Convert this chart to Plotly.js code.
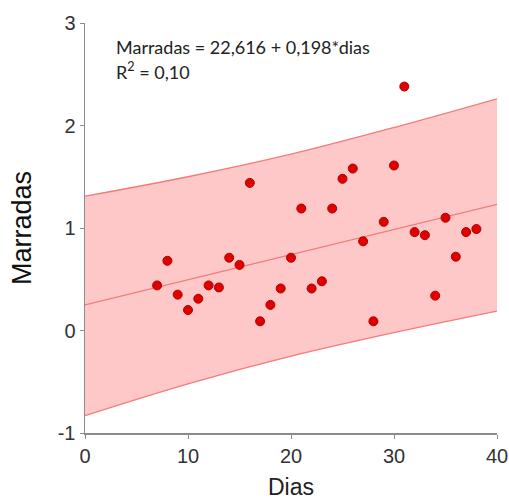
<!DOCTYPE html>
<html>
<head>
<meta charset="utf-8">
<script src="https://cdn.plot.ly/plotly-3.0.1.min.js"></script>
<style>
  html, body { margin: 0; padding: 0; background: #fff; }
  #chart { width: 509px; height: 500px; }
</style>
</head>
<body>
<div id="chart"></div>
<script>
// Observed headbutts per day
const dias = [7, 8, 9, 10, 11, 12, 13, 14, 15, 16, 17, 18, 19, 20, 21, 22,
              23, 24, 25, 26, 27, 28, 29, 30, 31, 32, 33, 34, 35, 36, 37, 38];
const marradas = [0.44, 0.68, 0.35, 0.20, 0.31, 0.44, 0.42, 0.71, 0.64, 1.44, 0.09, 0.25, 0.41, 0.71, 1.19, 0.41,
                  0.48, 1.19, 1.48, 1.58, 0.87, 0.09, 1.06, 1.61, 2.38, 0.96, 0.93, 0.34, 1.10, 0.72, 0.96, 0.99];

// Fitted line
const fitX = [0, 40];
const fitY = [0.25, 1.23];

// Prediction band
const bandX = [0, 10, 20, 30, 40];
const bandUpper = [1.31, 1.50, 1.72, 1.98, 2.26];
const bandLower = [-0.83, -0.52, -0.25, -0.02, 0.19];

// Axis ticks
const xTicks = [0, 10, 20, 30, 40];
const yTicks = [-1, 0, 1, 2, 3];

const sansFamily = '"Liberation Sans", Arial, sans-serif';
const noteFamily = 'Lato, "Open Sans", sans-serif';
const bandLine = { color: '#F47A7A', width: 1.3, shape: 'spline' };

const traces = [
  { x: bandX, y: bandLower, mode: 'lines', line: bandLine, hoverinfo: 'skip', showlegend: false },
  { x: bandX, y: bandUpper, mode: 'lines', line: bandLine, fill: 'tonexty',
    fillcolor: 'rgba(255,200,200,1)', hoverinfo: 'skip', showlegend: false },
  { x: fitX, y: fitY, mode: 'lines', line: { color: '#F47A7A', width: 1.3 }, showlegend: false },
  { x: dias, y: marradas, mode: 'markers', showlegend: false,
    marker: { size: 9, color: '#E00000', line: { color: '#B00000', width: 1 } } }
];

const layout = {
  width: 509, height: 500,
  margin: { l: 85, r: 12, t: 23, b: 67 },
  paper_bgcolor: '#fff', plot_bgcolor: '#fff',
  font: { family: sansFamily, color: '#333' },
  xaxis: {
    range: [0, 40], tickvals: xTicks, ticktext: xTicks.map(String),
    showgrid: false, zeroline: false, showline: true, linecolor: '#8c8c8c', linewidth: 1.5,
    ticks: 'outside', ticklen: 4, tickcolor: '#8c8c8c',
    tickfont: { family: sansFamily, size: 20, color: '#333' },
    title: { text: 'Dias', font: { family: sansFamily, size: 23, color: '#222' }, standoff: 14 }
  },
  yaxis: {
    range: [-1, 3], tickvals: yTicks, ticktext: yTicks.map(String),
    showgrid: false, zeroline: false, showline: true, linecolor: '#8c8c8c', linewidth: 1.5,
    ticks: 'outside', ticklen: 4, tickcolor: '#8c8c8c',
    tickfont: { family: sansFamily, size: 20, color: '#333' },
    title: { text: 'Marradas', font: { family: sansFamily, size: 27, color: '#111' }, standoff: 18 }
  },
  annotations: [
    { xref: 'x', yref: 'y', x: 2.8, y: 2.77, xanchor: 'left', yanchor: 'middle', showarrow: false,
      text: 'Marradas = 22,616 + 0,198*dias', font: { family: noteFamily, size: 18, color: '#222' } },
    { xref: 'x', yref: 'y', x: 2.8, y: 2.53, xanchor: 'left', yanchor: 'middle', showarrow: false,
      text: 'R<sup>2</sup> = 0,10', font: { family: noteFamily, size: 18, color: '#222' } }
  ]
};

Plotly.newPlot('chart', traces, layout, { displayModeBar: false, staticPlot: true });
</script>
</body>
</html>
